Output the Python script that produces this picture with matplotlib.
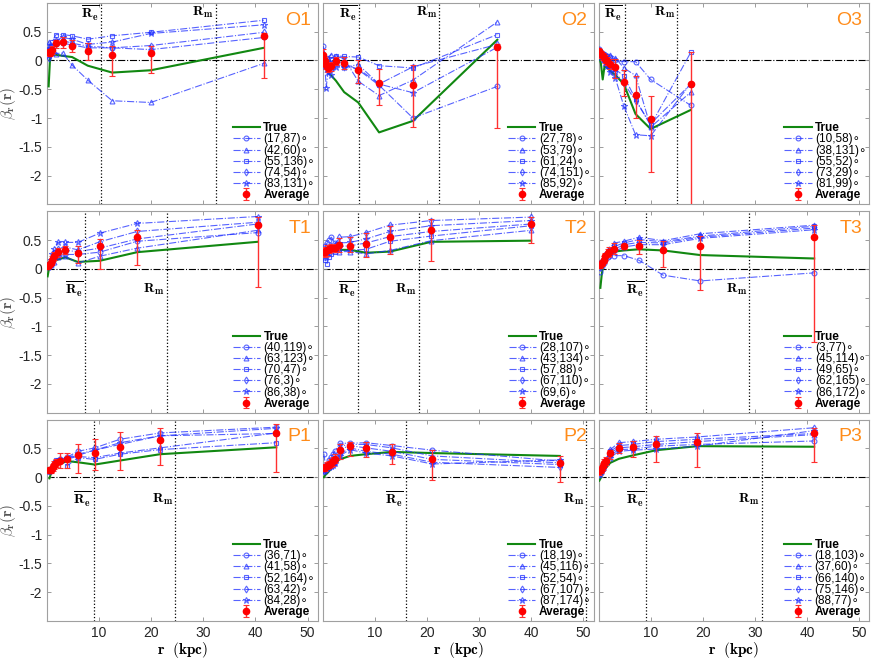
import numpy as np
import matplotlib
matplotlib.use('Agg')
import matplotlib.pyplot as plt

plt.rcParams['font.family'] = ['Liberation Sans', 'DejaVu Sans']
plt.rcParams['mathtext.fontset'] = 'cm'
plt.rcParams['axes.unicode_minus'] = False

# ---- data (r in kpc, beta values) ----
O1_r = [0.3, 0.6, 0.9, 1.7, 3.0, 4.8, 7.8, 12.5, 19.9, 41.6]
O1_true = [-0.45, 0.10, 0.10, 0.10, 0.08, 0.06, -0.09, -0.21, -0.17, 0.22]
O1_fits = [[0.10, 0.15, 0.20, 0.28, 0.30, 0.27, 0.22, 0.22, 0.19, 0.40],
           [0.33, 0.22, 0.15, 0.12, 0.13, -0.08, -0.34, -0.70, -0.73, -0.05],
           [0.20, 0.25, 0.32, 0.45, 0.45, 0.43, 0.37, 0.43, 0.49, 0.70],
           [0.05, 0.10, 0.20, 0.30, 0.35, 0.30, 0.25, 0.22, 0.26, 0.49],
           [0.15, 0.20, 0.25, 0.35, 0.40, 0.37, 0.28, 0.32, 0.47, 0.62]]
O1_avg = [0.14, 0.13, 0.19, 0.30, 0.32, 0.26, 0.16, 0.10, 0.13, 0.43]
O1_lo = [0.08, 0.07, 0.12, 0.22, 0.22, 0.14, 0.00, -0.27, -0.21, -0.31]
O1_hi = [0.20, 0.19, 0.26, 0.36, 0.40, 0.36, 0.30, 0.26, 0.25, 0.48]
O1_angles = ['(17,87)', '(42,60)', '(55,136)', '(74,54)', '(83,131)']
O1_radii = [10.4, 32.4]

O2_r = [0.1, 0.4, 0.65, 1.0, 1.5, 2.5, 4.1, 6.8, 10.8, 17.3, 33.5]
O2_true = [0.05, -0.02, -0.10, -0.21, -0.25, -0.35, -0.55, -0.73, -1.25, -1.05, 0.36]
O2_fits = [[0.25, 0.05, -0.05, -0.10, -0.05, 0.00, -0.05, -0.16, -0.43, -1.00, -0.45],
           [0.15, 0.00, 0.05, 0.05, 0.10, 0.08, 0.03, -0.36, -0.61, -0.34, 0.67],
           [0.05, 0.00, -0.05, -0.05, 0.03, 0.08, 0.07, 0.06, -0.09, -0.13, 0.45],
           [0.10, 0.00, -0.10, -0.15, -0.15, -0.05, -0.12, -0.07, -0.41, -0.11, 0.28],
           [-0.05, -0.10, -0.47, -0.20, -0.25, -0.12, -0.12, -0.14, -0.41, -0.56, 0.23]]
O2_avg = [0.10, -0.01, -0.07, -0.13, -0.10, -0.01, -0.04, -0.16, -0.39, -0.43, 0.23]
O2_lo = [0.0, -0.08, -0.15, -0.20, -0.18, -0.08, -0.14, -0.39, -0.78, -1.16, -1.18]
O2_hi = [0.20, 0.06, 0.0, -0.05, -0.02, 0.06, 0.06, 0.0, -0.14, -0.07, 0.29]
O2_angles = ['(27,78)', '(53,79)', '(61,24)', '(74,151)', '(85,92)']
O2_radii = [7.0, 22.3]

O3_r = [0.15, 0.45, 0.8, 1.15, 1.6, 2.25, 3.2, 4.85, 7.1, 10.0, 17.7]
O3_true = [0.05, -0.05, -0.33, -0.10, -0.12, -0.18, -0.25, -0.41, -0.93, -1.19, -0.86]
O3_fits = [[0.20, 0.15, 0.12, 0.10, 0.08, 0.05, 0.00, -0.02, -0.02, -0.33, -0.78],
           [0.18, 0.14, 0.10, 0.12, 0.08, 0.10, 0.05, -0.13, -0.26, -1.16, -0.55],
           [0.15, 0.10, 0.05, 0.00, -0.05, -0.10, -0.15, -0.27, -0.67, -1.13, 0.14],
           [0.15, 0.10, 0.05, -0.02, -0.08, -0.15, -0.20, -0.39, -0.70, -1.10, -0.41],
           [0.12, 0.06, 0.03, -0.05, -0.10, -0.20, -0.30, -0.79, -1.29, -1.31, -0.40]]
O3_avg = [0.16, 0.11, 0.07, 0.03, -0.01, -0.06, -0.11, -0.37, -0.60, -1.02, -0.40]
O3_lo = [0.10, 0.05, 0.0, -0.05, -0.08, -0.15, -0.30, -0.61, -1.00, -1.93, -3.0]
O3_hi = [0.20, 0.16, 0.13, 0.09, 0.06, 0.03, 0.02, -0.16, -0.27, -0.61, 0.15]
O3_angles = ['(10,58)', '(38,131)', '(55,52)', '(73,29)', '(81,99)']
O3_radii = [5.0, 15.1]

T1_r = [0.1, 0.4, 0.7, 1.0, 1.4, 2.0, 3.5, 5.9, 10.1, 17.3, 40.4]
T1_true = [-0.13, 0.02, 0.06, 0.10, 0.13, 0.16, 0.20, 0.12, 0.14, 0.29, 0.47]
T1_fits = [[0.06, 0.07, 0.08, 0.12, 0.18, 0.22, 0.25, 0.25, 0.29, 0.48, 0.63],
           [0.05, 0.05, 0.07, 0.10, 0.12, 0.20, 0.22, 0.10, 0.22, 0.36, 0.67],
           [0.04, 0.08, 0.10, 0.15, 0.20, 0.30, 0.32, 0.30, 0.36, 0.52, 0.78],
           [0.05, 0.07, 0.12, 0.20, 0.28, 0.35, 0.38, 0.33, 0.47, 0.65, 0.81],
           [0.03, 0.08, 0.15, 0.25, 0.35, 0.46, 0.46, 0.46, 0.62, 0.79, 0.91]]
T1_avg = [0.05, 0.07, 0.10, 0.16, 0.22, 0.29, 0.32, 0.28, 0.39, 0.55, 0.76]
T1_lo = [0.02, 0.03, 0.06, 0.10, 0.15, 0.20, 0.25, 0.11, 0.0, 0.06, -0.31]
T1_hi = [0.08, 0.11, 0.14, 0.22, 0.30, 0.36, 0.40, 0.40, 0.52, 0.68, 0.91]
T1_angles = ['(40,119)', '(63,123)', '(70,47)', '(76,3)', '(86,38)']
T1_radii = [7.35, 23.0]

T2_r = [0.2, 0.5, 0.85, 1.15, 1.65, 2.3, 3.2, 5.2, 8.3, 12.9, 20.8, 40.0]
T2_true = [0.28, 0.30, 0.32, 0.33, 0.33, 0.33, 0.33, 0.33, 0.28, 0.30, 0.47, 0.49]
T2_fits = [[0.35, 0.40, 0.45, 0.50, 0.55, 0.45, 0.39, 0.40, 0.45, 0.56, 0.65, 0.78],
           [0.20, 0.25, 0.30, 0.30, 0.32, 0.32, 0.30, 0.30, 0.26, 0.32, 0.49, 0.67],
           [0.25, 0.15, 0.09, 0.20, 0.25, 0.30, 0.32, 0.32, 0.34, 0.48, 0.57, 0.75],
           [0.30, 0.32, 0.35, 0.38, 0.40, 0.42, 0.55, 0.56, 0.63, 0.76, 0.84, 0.90],
           [0.30, 0.35, 0.30, 0.35, 0.35, 0.38, 0.45, 0.46, 0.52, 0.65, 0.75, 0.84]]
T2_avg = [0.29, 0.30, 0.33, 0.34, 0.36, 0.36, 0.42, 0.40, 0.43, 0.55, 0.68, 0.78]
T2_lo = [0.22, 0.20, 0.22, 0.27, 0.30, 0.30, 0.30, 0.29, 0.20, 0.26, 0.13, 0.45]
T2_hi = [0.36, 0.38, 0.42, 0.42, 0.44, 0.44, 0.53, 0.56, 0.62, 0.75, 0.86, 0.90]
T2_angles = ['(28,107)', '(43,134)', '(57,88)', '(67,110)', '(69,6)']
T2_radii = [6.85, 18.4]

T3_r = [0.35, 0.65, 1.0, 1.3, 1.75, 2.1, 3.05, 4.85, 7.75, 12.4, 19.5, 41.4]
T3_true = [-0.33, -0.07, 0.07, 0.12, 0.20, 0.22, 0.30, 0.32, 0.34, 0.32, 0.24, 0.18]
T3_fits = [[-0.05, 0.05, 0.10, 0.15, 0.20, 0.22, 0.23, 0.23, 0.15, -0.11, -0.21, -0.07],
           [0.10, 0.13, 0.18, 0.25, 0.32, 0.35, 0.45, 0.48, 0.55, 0.49, 0.61, 0.76],
           [0.08, 0.12, 0.17, 0.22, 0.28, 0.30, 0.39, 0.45, 0.51, 0.47, 0.57, 0.74],
           [0.10, 0.14, 0.18, 0.24, 0.30, 0.33, 0.34, 0.42, 0.46, 0.45, 0.55, 0.71],
           [0.10, 0.12, 0.16, 0.22, 0.28, 0.31, 0.30, 0.38, 0.42, 0.42, 0.53, 0.68]]
T3_avg = [0.07, 0.11, 0.16, 0.22, 0.28, 0.30, 0.34, 0.39, 0.39, 0.32, 0.40, 0.55]
T3_lo = [0.02, 0.05, 0.10, 0.15, 0.20, 0.22, 0.25, 0.34, 0.25, 0.03, -0.36, -1.28]
T3_hi = [0.12, 0.16, 0.22, 0.28, 0.35, 0.38, 0.45, 0.44, 0.51, 0.49, 0.57, 0.76]
T3_angles = ['(3,77)', '(45,114)', '(49,65)', '(62,165)', '(86,172)']
T3_radii = [9.15, 28.9]

P1_r = [0.45, 0.8, 1.1, 1.4, 1.75, 2.5, 3.9, 5.9, 9.15, 14.0, 21.7, 44.0]
P1_true = [-0.02, 0.08, 0.14, 0.19, 0.22, 0.24, 0.28, 0.26, 0.22, 0.29, 0.40, 0.52]
P1_fits = [[0.10, 0.13, 0.18, 0.22, 0.26, 0.31, 0.35, 0.45, 0.51, 0.66, 0.77, 0.87],
           [0.12, 0.15, 0.20, 0.25, 0.28, 0.30, 0.33, 0.38, 0.47, 0.57, 0.72, 0.76],
           [0.12, 0.15, 0.20, 0.24, 0.30, 0.30, 0.20, 0.34, 0.31, 0.40, 0.48, 0.60],
           [0.10, 0.12, 0.16, 0.20, 0.25, 0.28, 0.32, 0.36, 0.34, 0.42, 0.51, 0.77],
           [0.10, 0.12, 0.18, 0.22, 0.28, 0.32, 0.34, 0.40, 0.47, 0.60, 0.72, 0.85]]
P1_avg = [0.12, 0.13, 0.17, 0.22, 0.25, 0.29, 0.32, 0.38, 0.42, 0.53, 0.64, 0.77]
P1_lo = [0.07, 0.08, 0.11, 0.15, 0.18, 0.16, 0.16, 0.08, 0.12, 0.12, 0.21, 0.09]
P1_hi = [0.16, 0.18, 0.23, 0.29, 0.32, 0.42, 0.42, 0.58, 0.67, 0.79, 0.86, 0.93]
P1_angles = ['(36,71)', '(41,58)', '(52,164)', '(63,42)', '(84,28)']
P1_radii = [8.95, 24.6]

P2_r = [0.2, 0.5, 0.85, 1.15, 1.6, 1.95, 2.3, 3.25, 5.2, 8.25, 13.3, 21.0, 45.5]
P2_true = [0.0, 0.04, 0.07, 0.10, 0.15, 0.20, 0.25, 0.31, 0.37, 0.40, 0.44, 0.42, 0.37]
P2_fits = [[0.41, 0.20, 0.22, 0.30, 0.35, 0.40, 0.45, 0.59, 0.59, 0.60, 0.55, 0.47, 0.28],
           [0.15, 0.17, 0.20, 0.22, 0.28, 0.30, 0.35, 0.54, 0.57, 0.57, 0.51, 0.37, 0.25],
           [0.12, 0.15, 0.18, 0.20, 0.22, 0.25, 0.30, 0.48, 0.55, 0.51, 0.45, 0.31, 0.22],
           [0.10, 0.12, 0.15, 0.18, 0.20, 0.22, 0.25, 0.40, 0.51, 0.45, 0.40, 0.26, 0.17],
           [0.10, 0.14, 0.16, 0.18, 0.20, 0.22, 0.25, 0.37, 0.48, 0.42, 0.37, 0.23, 0.30]]
P2_avg = [0.16, 0.17, 0.20, 0.22, 0.25, 0.28, 0.32, 0.48, 0.55, 0.51, 0.44, 0.32, 0.25]
P2_lo = [0.10, 0.11, 0.14, 0.16, 0.18, 0.20, 0.24, 0.31, 0.37, 0.35, 0.23, -0.04, -0.09]
P2_hi = [0.22, 0.23, 0.26, 0.28, 0.32, 0.36, 0.40, 0.57, 0.61, 0.62, 0.57, 0.47, 0.37]
P2_angles = ['(18,19)', '(45,116)', '(52,54)', '(67,107)', '(87,174)']
P2_radii = [16.0, 50.6]

P3_r = [0.15, 0.45, 0.8, 1.1, 1.4, 2.25, 3.9, 6.6, 11.1, 19.0, 41.4]
P3_true = [-0.06, -0.01, 0.08, 0.12, 0.16, 0.25, 0.32, 0.38, 0.47, 0.54, 0.53]
P3_fits = [[0.03, 0.08, 0.14, 0.20, 0.25, 0.38, 0.48, 0.49, 0.54, 0.57, 0.63],
           [0.08, 0.12, 0.18, 0.24, 0.28, 0.42, 0.51, 0.53, 0.57, 0.62, 0.74],
           [0.12, 0.15, 0.20, 0.25, 0.30, 0.45, 0.55, 0.57, 0.62, 0.66, 0.76],
           [0.10, 0.14, 0.18, 0.26, 0.30, 0.48, 0.60, 0.62, 0.66, 0.70, 0.86],
           [0.06, 0.10, 0.16, 0.22, 0.26, 0.34, 0.45, 0.47, 0.49, 0.54, 0.81]]
P3_avg = [0.10, 0.13, 0.19, 0.25, 0.28, 0.42, 0.51, 0.53, 0.58, 0.62, 0.76]
P3_lo = [0.04, 0.07, 0.13, 0.18, 0.21, 0.32, 0.42, 0.35, 0.27, 0.18, 0.27]
P3_hi = [0.15, 0.19, 0.25, 0.32, 0.35, 0.48, 0.60, 0.63, 0.72, 0.76, 0.86]
P3_angles = ['(18,103)', '(37,60)', '(66,140)', '(75,146)', '(88,77)']
P3_radii = [9.15, 31.3]

panel_names = ['O1', 'O2', 'O3', 'T1', 'T2', 'T3', 'P1', 'P2', 'P3']
g = globals()

markers = ['o', '^', 's', 'd', '*']
blue = '#1f2fff'
green = '#118811'
orange = '#ff8c1a'
gray = '#8c8c8c'

fig, axes = plt.subplots(3, 3, figsize=(8.72, 6.61), dpi=100)
fig.subplots_adjust(left=0.054, right=0.997, bottom=0.0605, top=0.9955,
                    wspace=0.018, hspace=0.035)

# y position (data) of the Re / Rm labels per row
label_y = [0.83, -0.36, -0.38]

for k, name in enumerate(panel_names):
    row, col = divmod(k, 3)
    ax = axes[row, col]
    r = g[name + '_r']
    avg = np.array(g[name + '_avg'])
    lo = np.array(g[name + '_lo'])
    hi = np.array(g[name + '_hi'])
    re, rm = g[name + '_radii']

    ax.axhline(0, color='k', ls='-.', lw=0.8, zorder=1)
    ax.axvline(re, color='k', ls=':', lw=0.9, zorder=1)
    ax.axvline(rm, color='k', ls=':', lw=0.9, zorder=1)

    ax.plot(r, g[name + '_true'], color=green, lw=1.5, label='True', zorder=3)
    for fit, m, ang in zip(g[name + '_fits'], markers, g[name + '_angles']):
        ax.plot(r, fit, ls='-.', color=blue, alpha=0.75, lw=0.8, marker=m,
                ms=3.5 if m != '*' else 4.5, mfc='none', mew=0.8,
                label=ang + '\u2218', zorder=4)
    ax.errorbar(r, avg, yerr=[avg - lo, hi - avg], fmt='o', color='red',
                ms=4.5, elinewidth=1.0, capsize=2, capthick=0.8,
                ecolor='#ff3030', label='Average', zorder=5)

    ax.text(re - 0.4, label_y[row], r'$\overline{\mathbf{R}_\mathbf{e}}$',
            ha='right', va='center', fontsize=10)
    ax.text(rm - 0.4, label_y[row], r'$\mathbf{R}_\mathbf{m}$',
            ha='right', va='center', fontsize=10)
    ax.text(0.975, 0.915, name, transform=ax.transAxes, ha='right',
            va='center', fontsize=14, color=orange)

    ax.set_xlim(0, 52)
    ax.set_ylim(-2.5, 1.0)
    ax.set_xticks([10, 20, 30, 40, 50])
    ax.set_yticks([-2, -1.5, -1, -0.5, 0, 0.5])
    ax.set_yticklabels(['-2', '-1.5', '-1', '-0.5', '0', '0.5'])
    ax.tick_params(direction='in', top=True, right=True, length=3,
                   width=0.6, color=gray, labelsize=10, labelcolor='#262626')
    for sp in ax.spines.values():
        sp.set_color('#a0a0a0')
        sp.set_linewidth(0.8)
    if col > 0:
        ax.tick_params(labelleft=False)
    else:
        ax.set_ylabel(r'$\beta_{\mathbf{r}}(\mathbf{r})$', fontsize=11,
                      color='#555555')
        ax.yaxis.set_label_coords(-0.106, 0.5)
    if row < 2:
        ax.tick_params(labelbottom=False)
    else:
        ax.set_xlabel(r'$\mathbf{r\ \ (kpc)}$', fontsize=11)
        ax.xaxis.set_label_coords(0.5, -0.095)

    leg = ax.legend(loc='lower right', frameon=False, fontsize=8.5,
                    labelspacing=-0.07, handlelength=2.3, handletextpad=0.3,
                    borderaxespad=0.05, borderpad=0.2)
    for t in leg.get_texts():
        if t.get_text() in ('True', 'Average'):
            t.set_fontweight('bold')

fig.savefig('out.png', dpi=100)
